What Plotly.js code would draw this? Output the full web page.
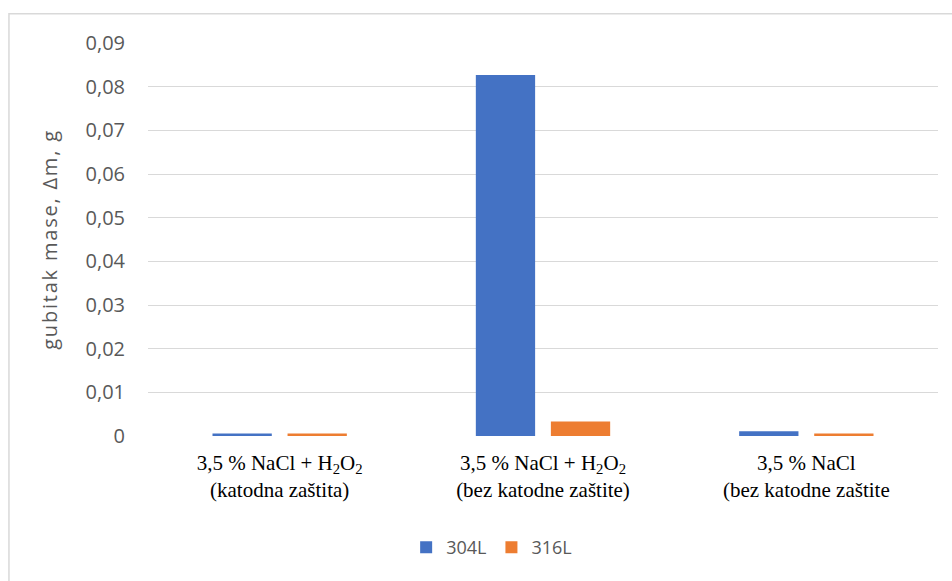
<!DOCTYPE html>
<html>
<head>
<meta charset="utf-8">
<script src="https://cdn.plot.ly/plotly-3.0.1.min.js"></script>
<style>html,body{margin:0;padding:0;background:#fff;}#chart{width:952px;height:581px;}
#chart .ytitle{letter-spacing:1.8px;}</style>
</head>
<body>
<div id="chart"></div>
<script>
const categories = [
  "3,5 % NaCl + H<sub>2</sub>O<sub>2</sub><br>(katodna zaštita)",
  "3,5 % NaCl + H<sub>2</sub>O<sub>2</sub><br>(bez katodne zaštite)",
  "3,5 % NaCl<br>(bez katodne zaštite"
];
const series304L = [0.0006, 0.0827, 0.0011];
const series316L = [0.0006, 0.0033, 0.0006];
const seriesNames = ["304L", "316L"];
const yTickVals = [0, 0.01, 0.02, 0.03, 0.04, 0.05, 0.06, 0.07, 0.08, 0.09];
const yTickText = ["0", "0,01", "0,02", "0,03", "0,04", "0,05", "0,06", "0,07", "0,08", "0,09"];

const traces = [
  {type: "bar", x: categories, y: series304L, name: seriesNames[0], marker: {color: "#4472C4"}},
  {type: "bar", x: categories, y: series316L, name: seriesNames[1], marker: {color: "#ED7D31"}}
];

const layout = {
  width: 952, height: 581,
  margin: {l: 148, r: 14, t: 43, b: 145},
  paper_bgcolor: "#ffffff", plot_bgcolor: "#ffffff",
  barmode: "group", bargap: 0.43, bargroupgap: 0.21,
  showlegend: true,
  legend: {orientation: "h", x: 0.435, xanchor: "center", y: -0.284, yanchor: "middle",
           font: {family: "Open Sans, sans-serif", size: 18, color: "#595959"}, itemwidth: 30, traceorder: "normal"},
  xaxis: {
    type: "category", showgrid: false, zeroline: false, showline: false, ticks: "",
    tickfont: {family: "Liberation Serif, Times New Roman, serif", size: 21, color: "#000000"},
    ticklabelstandoff: 12
  },
  yaxis: {
    range: [0, 0.09], tickvals: yTickVals, ticktext: yTickText,
    showgrid: true, gridcolor: "#D9D9D9", gridwidth: 1, zeroline: false, showline: false, ticks: "",
    tickfont: {family: "Open Sans, sans-serif", size: 20, color: "#595959"},
    ticklabelstandoff: 22,
    title: {text: "gubitak mase, Δm, g", font: {family: "Open Sans, sans-serif", size: 20, color: "#595959"}, standoff: 22}
  },
  shapes: [{type: "rect", xref: "paper", yref: "paper", x0: -0.176, x1: 1.2, y0: -0.6, y1: 1.0746,
            line: {color: "#D9D9D9", width: 1.5}, fillcolor: "rgba(0,0,0,0)", layer: "below"}]
};

Plotly.newPlot("chart", traces, layout, {displayModeBar: false, staticPlot: true});
</script>
</body>
</html>
